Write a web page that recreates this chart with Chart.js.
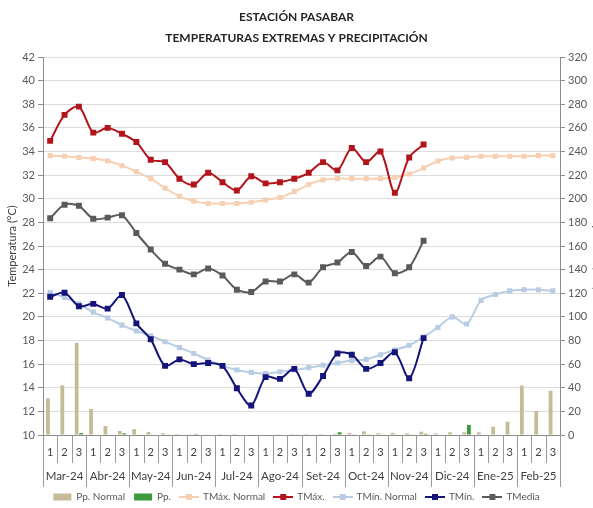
<!DOCTYPE html>
<html>
<head>
<meta charset="utf-8">
<script src="https://cdn.jsdelivr.net/npm/chart.js@4.4.1/dist/chart.umd.min.js"></script>
<style>
html, body { margin: 0; padding: 0; background: #fff; overflow: hidden; }
</style>
</head>
<body>
<canvas id="c" width="593" height="508"></canvas>
<script>
(function() {

var FONT = "Lato, 'Open Sans', sans-serif";

// decadas (1, 2, 3) por mes
var DECADAS = ['1','2','3','1','2','3','1','2','3','1','2','3','1','2','3','1','2','3',
               '1','2','3','1','2','3','1','2','3','1','2','3','1','2','3','1','2','3'];
var MESES = ['Mar-24', 'Abr-24', 'May-24', 'Jun-24', 'Jul-24', 'Ago-24',
             'Set-24', 'Oct-24', 'Nov-24', 'Dic-24', 'Ene-25', 'Feb-25'];

// precipitacion (mm)
var PP_NORMAL = [31, 42, 78, 22, 7.6, 3.4, 5, 2.5, 1.5, 0.8, 0.6, 0.5,
                 0.8, 0.8, 0.4, 0.5, 0.6, 0.8, 0.8, 0.8, 1, 1.8, 3.1, 1.5,
                 1.8, 1.5, 2.8, 1.4, 2.3, 2.3, 2.3, 7, 11.3, 41.8, 20.3, 37.5];
var PP = [0, 0, 1.6, 0, 0, 1.4, 0, 0, 0.3, 0, 0.8, 0,
          0, 0, 0, 0, 0, 0.5, 0, 0, 2.3, 0.3, 0.3, 0.3,
          0.3, 0.3, 1, 0, 0, 8.5, null, null, null, null, null, null];

// temperaturas (°C)
var TMAX_NORMAL = [33.65, 33.6, 33.5, 33.4, 33.2, 32.8, 32.3, 31.7, 30.9, 30.2, 29.8, 29.6,
                   29.6, 29.6, 29.7, 29.9, 30.1, 30.6, 31.2, 31.6, 31.7, 31.7, 31.7, 31.7,
                   31.8, 32.1, 32.6, 33.2, 33.45, 33.5, 33.6, 33.6, 33.6, 33.6, 33.65, 33.65];
var TMAX = [34.9, 37.1, 37.8, 35.6, 36.0, 35.5, 34.8, 33.3, 33.1, 31.7, 31.2, 32.2,
            31.4, 30.7, 31.9, 31.3, 31.4, 31.7, 32.2, 33.1, 32.4, 34.3, 33.1, 34.0,
            30.5, 33.5, 34.6, null, null, null, null, null, null, null, null, null];
var TMIN_NORMAL = [22.05, 21.65, 21.1, 20.4, 19.9, 19.3, 18.8, 18.4, 17.9, 17.4, 16.9, 16.35,
                   15.85, 15.5, 15.3, 15.2, 15.35, 15.5, 15.7, 15.9, 16.1, 16.3, 16.4, 16.8,
                   17.2, 17.6, 18.3, 19.1, 20.0, 19.4, 21.4, 21.9, 22.2, 22.3, 22.3, 22.2];
var TMIN = [21.7, 22.05, 20.9, 21.1, 20.7, 21.85, 19.45, 18.1, 15.85, 16.4, 16.0, 16.1,
            15.85, 13.95, 12.5, 14.9, 14.75, 15.6, 13.5, 15.0, 16.9, 16.8, 15.6, 16.1,
            17.0, 14.8, 18.2, null, null, null, null, null, null, null, null, null];
var TMEDIA = [28.35, 29.5, 29.4, 28.3, 28.4, 28.6, 27.1, 25.7, 24.5, 24.0, 23.6, 24.1,
              23.5, 22.3, 22.1, 23.0, 23.0, 23.6, 22.9, 24.2, 24.6, 25.5, 24.3, 25.1,
              23.7, 24.2, 26.45, null, null, null, null, null, null, null, null, null];

var C_PPN = '#c4bc96', C_PP = '#3c9a3c';
var C_TMAXN = '#f7cfb2', C_TMAX = '#b3141b';
var C_TMINN = '#b8cce4', C_TMIN = '#14147a';
var C_TMED = '#5a5a5a';
var C_AXIS = '#8c8c8c', C_TXT = '#404040';

Chart.defaults.font.family = FONT;
Chart.defaults.color = C_TXT;

function lineIcon(color) {
    var cv = document.createElement('canvas');
    cv.width = 20; cv.height = 8;
    var g = cv.getContext('2d');
    g.strokeStyle = color; g.lineWidth = 2;
    g.beginPath(); g.moveTo(0, 4); g.lineTo(20, 4); g.stroke();
    g.fillStyle = color;
    g.fillRect(7, 1, 6, 6);
    return cv;
}

function serie(label, data, color, order, r) {
    return {
        type: 'line', label: label, data: data, yAxisID: 'y', order: order,
        borderColor: color, backgroundColor: color, borderWidth: 2,
        pointStyle: 'rect', pointRadius: r, pointHoverRadius: r,
        pointBackgroundColor: color, pointBorderColor: color, pointBorderWidth: 0,
        tension: 0.3, fill: false
    };
}

var ICONS = [null, null, lineIcon(C_TMAXN), lineIcon(C_TMAX), lineIcon(C_TMINN), lineIcon(C_TMIN), lineIcon(C_TMED)];

// etiquetas de mes y separadores bajo el eje
var mesesPlugin = {
    id: 'meses',
    afterDraw: function(chart) {
        var x = chart.scales.x, ctx = chart.ctx;
        var half = (x.getPixelForValue(1) - x.getPixelForValue(0)) / 2;
        var y0 = chart.chartArea.bottom;
        ctx.save();
        ctx.strokeStyle = '#9a9a9a';
        ctx.lineWidth = 1;
        for (var i = 0; i <= DECADAS.length; i++) {
            var px = Math.round(x.getPixelForValue(Math.min(i, DECADAS.length - 1)) + (i === DECADAS.length ? half : -half)) + 0.5;
            ctx.beginPath();
            ctx.moveTo(px, y0);
            ctx.lineTo(px, y0 + (i % 3 === 0 ? 52 : 28));
            ctx.stroke();
        }
        ctx.fillStyle = C_TXT;
        ctx.font = '11.5px ' + FONT;
        ctx.textAlign = 'center';
        ctx.textBaseline = 'middle';
        MESES.forEach(function(m, k) {
            var cx = (x.getPixelForValue(k * 3) + x.getPixelForValue(k * 3 + 2)) / 2;
            ctx.fillText(m, cx, y0 + 41);
        });
        ctx.restore();
    }
};

new Chart(document.getElementById('c'), {
    data: {
        labels: DECADAS,
        datasets: [
            { type: 'bar', label: 'Pp. Normal', data: PP_NORMAL, yAxisID: 'y1', order: 3,
              backgroundColor: C_PPN, categoryPercentage: 0.62, barPercentage: 0.85 },
            { type: 'bar', label: 'Pp.', data: PP, yAxisID: 'y1', order: 3,
              backgroundColor: C_PP, categoryPercentage: 0.62, barPercentage: 0.85 },
            serie('TMáx. Normal', TMAX_NORMAL, C_TMAXN, 2, 3.6),
            serie('TMáx.', TMAX, C_TMAX, 1, 4.2),
            serie('TMín. Normal', TMIN_NORMAL, C_TMINN, 2, 3.6),
            serie('TMín.', TMIN, C_TMIN, 1, 4.2),
            serie('TMedia', TMEDIA, C_TMED, 1, 4.2)
        ]
    },
    options: {
        responsive: false,
        animation: false,
        layout: { padding: 0 },
        scales: {
            x: {
                type: 'category', offset: true,
                grid: { display: false, drawTicks: true, tickLength: 8 },
                border: { color: C_AXIS },
                ticks: { color: C_TXT, font: { size: 11 }, maxRotation: 0, autoSkip: false, padding: 3 },
                afterFit: function(s) { s.height = 48; }
            },
            y: {
                position: 'left', min: 10, max: 42,
                ticks: { stepSize: 2, color: '#595959', font: { size: 11 }, padding: 3 },
                grid: { color: '#dcdcdc', tickColor: C_AXIS, tickLength: 5 },
                border: { color: C_AXIS },
                title: { display: true, text: 'Temperatura (°C)', color: C_TXT, font: { size: 11 }, padding: { top: 6, bottom: 0 } },
                afterFit: function(s) { s.width = 43; }
            },
            y1: {
                position: 'right', min: 0, max: 320,
                ticks: { stepSize: 20, color: '#595959', font: { size: 11 }, padding: 3 },
                grid: { drawOnChartArea: false, tickColor: C_AXIS, tickLength: 5 },
                border: { color: C_AXIS },
                // el titulo queda recortado por el borde derecho, como en el original
                title: { display: true, text: 'Precipitación (mm)', color: C_TXT, font: { size: 11 }, padding: { top: -11, bottom: 0 } },
                afterFit: function(s) { s.width = 33; }
            }
        },
        plugins: {
            title: {
                display: true,
                text: ['ESTACIÓN PASABAR', 'TEMPERATURAS EXTREMAS Y PRECIPITACIÓN'],
                color: '#262626',
                font: { size: 12, weight: 'bold', lineHeight: 1.75 },
                padding: { top: 7, bottom: 8 }
            },
            legend: {
                position: 'bottom',
                maxHeight: 25,
                labels: {
                    color: '#595959', font: { size: 10 },
                    usePointStyle: true, pointStyleWidth: 18, boxHeight: 7, padding: 9,
                    sort: function(a, b) { return a.datasetIndex - b.datasetIndex; },
                    generateLabels: function(chart) {
                        var items = Chart.defaults.plugins.legend.labels.generateLabels(chart);
                        items.forEach(function(it) {
                            var icon = ICONS[it.datasetIndex];
                            if (icon) {
                                it.pointStyle = icon;
                            } else {
                                it.pointStyle = 'rect';
                                it.lineWidth = 0;
                            }
                        });
                        return items;
                    }
                }
            },
            tooltip: { enabled: false }
        }
    },
    plugins: [mesesPlugin]
});

})();
</script>
</body>
</html>
